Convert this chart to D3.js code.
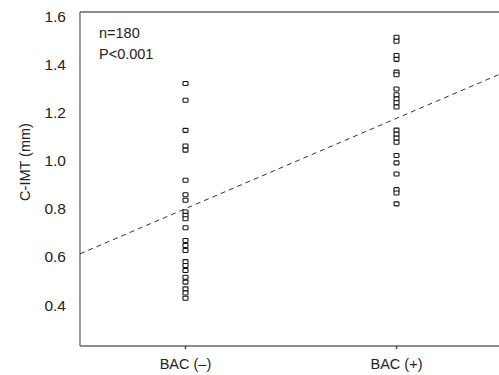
<!DOCTYPE html>
<html>
<head>
<meta charset="utf-8">
<script src="https://cdn.jsdelivr.net/npm/d3@7"></script>
<style>
  body { margin: 0; background: #fff; }
  text { font-family: "Liberation Sans", Arial, sans-serif; fill: #222; }
</style>
</head>
<body>
<div id="chart"></div>
<script>
// group labels and the C-IMT values (mm)
const groups = ["BAC (\u2013)", "BAC (+)"];
const bacNeg = [1.32, 1.25, 1.125, 1.06, 1.043, 0.918, 0.858, 0.835, 0.786, 0.772,
                0.758, 0.721, 0.668, 0.647, 0.626, 0.58, 0.564, 0.543, 0.515, 0.495,
                0.467, 0.45, 0.428];
const bacPos = [1.512, 1.495, 1.436, 1.42, 1.367, 1.356, 1.297, 1.273, 1.256, 1.24,
                1.222, 1.126, 1.109, 1.093, 1.076, 1.021, 0.99, 0.944, 0.879, 0.865, 0.82];
// fitted line value at each group
const trend = [0.8, 1.175];
const yTicks = [0.4, 0.6, 0.8, 1.0, 1.2, 1.4, 1.6];
const notes = ["n=180", "P<0.001"];

const width = 499, height = 375;
const plotLeft = 80, plotTop = 12, plotBottom = 346;

const svg = d3.select("#chart").append("svg")
    .attr("width", width)
    .attr("height", height);

// x: groups at 0 and 1 on a numeric axis
const x = d3.scaleLinear().domain([-0.5, 1.5]).range([plotLeft, plotLeft + 422]);
const y = d3.scaleLinear().domain([0.4, 1.6]).range([305, 16]);

// y tick labels (no tick marks)
svg.append("g").selectAll("text")
    .data(yTicks)
    .join("text")
    .attr("x", 66)
    .attr("y", d => y(d))
    .attr("dy", "0.36em")
    .attr("text-anchor", "end")
    .attr("font-size", 15.5)
    .text(d => d.toFixed(1));

// axis frame: left, bottom and top lines
const frame = svg.append("g")
    .attr("stroke", "#666")
    .attr("stroke-width", 1.3)
    .attr("fill", "none");
frame.append("line").attr("x1", plotLeft).attr("x2", plotLeft).attr("y1", plotTop).attr("y2", plotBottom);
frame.append("line").attr("x1", plotLeft).attr("x2", width + 5).attr("y1", plotBottom).attr("y2", plotBottom);
frame.append("line").attr("x1", plotLeft).attr("x2", width + 5).attr("y1", plotTop).attr("y2", plotTop);

// x ticks and labels
groups.forEach((g, i) => {
    svg.append("line")
        .attr("x1", x(i)).attr("x2", x(i))
        .attr("y1", plotBottom).attr("y2", plotBottom + 3)
        .attr("stroke", "#333")
        .attr("stroke-width", 1.3);
    svg.append("text")
        .attr("x", x(i))
        .attr("y", 369)
        .attr("text-anchor", "middle")
        .attr("font-size", 14.5)
        .text(g);
});

// y axis title
svg.append("text")
    .attr("transform", "translate(30,162) rotate(-90)")
    .attr("text-anchor", "middle")
    .attr("font-size", 14.5)
    .text("C-IMT (mm)");

// annotation text
notes.forEach((t, i) => {
    svg.append("text")
        .attr("x", 99)
        .attr("y", 38 + i * 21)
        .attr("font-size", 14.5)
        .text(t);
});

// dashed fitted line across the plot
const slope = trend[1] - trend[0];
const x0 = x.domain()[0], x1 = x.domain()[1];
svg.append("line")
    .attr("x1", x(x0))
    .attr("y1", y(trend[0] + slope * x0))
    .attr("x2", x(x1))
    .attr("y2", y(trend[0] + slope * x1))
    .attr("stroke", "#333")
    .attr("stroke-width", 1)
    .attr("stroke-dasharray", "5,4");

// points as small open squares
const points = bacNeg.map(v => ({ g: 0, v }))
    .concat(bacPos.map(v => ({ g: 1, v })));
svg.append("g").selectAll("rect")
    .data(points)
    .join("rect")
    .attr("x", d => x(d.g) - 2.5)
    .attr("y", d => y(d.v) - 2)
    .attr("width", 5)
    .attr("height", 4)
    .attr("rx", 0.8)
    .attr("fill", "#fff")
    .attr("stroke", "#111")
    .attr("stroke-width", 1.1);
</script>
</body>
</html>
